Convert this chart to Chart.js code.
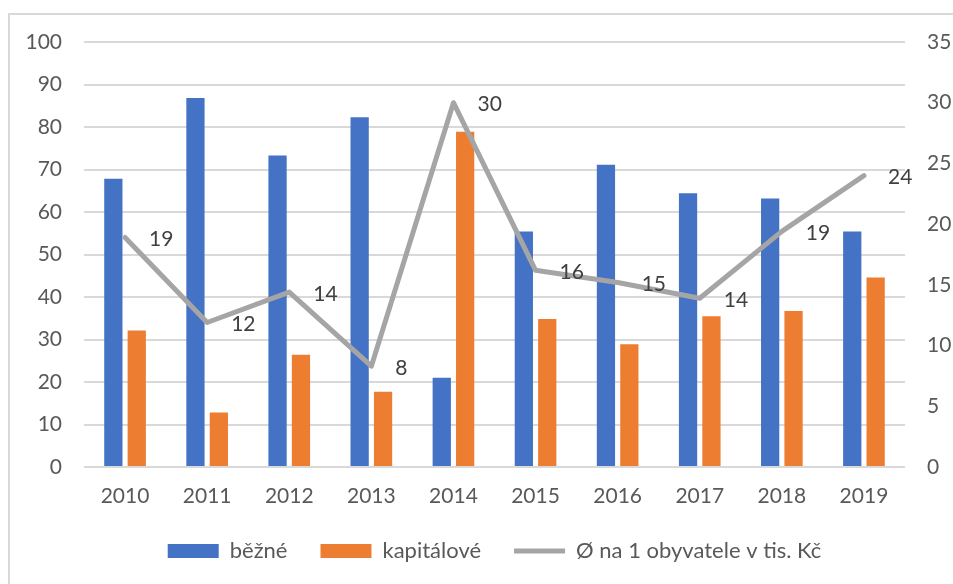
<!DOCTYPE html>
<html>
<head>
<meta charset="utf-8">
<script src="https://cdn.jsdelivr.net/npm/chart.js@4/dist/chart.umd.min.js"></script>
<style>
  html, body { margin: 0; padding: 0; background: #fff; }
  #wrap { position: relative; width: 953px; height: 584px; overflow: hidden; }
  #frame { position: absolute; left: 8px; top: 13px; width: 1000px; height: 700px; border: 2px solid #d9d9d9; box-sizing: border-box; }
  canvas { position: absolute; left: 0; top: 0; }
</style>
</head>
<body>
<div id="wrap">
  <div id="frame"></div>
  <canvas id="c" width="953" height="584"></canvas>
</div>
<script>
const categories = ['2010','2011','2012','2013','2014','2015','2016','2017','2018','2019'];
const bezne = [67.8, 86.8, 73.3, 82.3, 21.0, 55.4, 71.1, 64.4, 63.2, 55.4];
const kapitalove = [32.1, 12.8, 26.4, 17.7, 78.9, 34.8, 28.9, 35.5, 36.7, 44.6];
const naObyvatele = [18.9, 11.9, 14.4, 8.3, 30.0, 16.2, 15.2, 13.9, 19.4, 24.0];
const seriesNames = ['běžné', 'kapitálové', 'Ø na 1 obyvatele v tis. Kč'];

const FONT = 'Lato, "Open Sans", sans-serif';

const lineLabels = {
  id: 'lineLabels',
  afterDatasetsDraw(chart) {
    const ctx = chart.ctx;
    const meta = chart.getDatasetMeta(2);
    ctx.save();
    ctx.font = '21px ' + FONT;
    ctx.fillStyle = '#404040';
    ctx.textAlign = 'left';
    ctx.textBaseline = 'middle';
    meta.data.forEach((pt, i) => {
      ctx.fillText(String(Math.round(naObyvatele[i])), pt.x + 24, pt.y + 2);
    });
    ctx.restore();
  }
};

new Chart(document.getElementById('c'), {
  data: {
    labels: categories,
    datasets: [
      { type: 'bar', label: seriesNames[0], data: bezne, yAxisID: 'y',
        backgroundColor: '#4472c4', borderWidth: 0, order: 1,
        categoryPercentage: 0.57, barPercentage: 0.78, pointStyle: 'rect' },
      { type: 'bar', label: seriesNames[1], data: kapitalove, yAxisID: 'y',
        backgroundColor: '#ed7d31', borderWidth: 0, order: 1,
        categoryPercentage: 0.57, barPercentage: 0.78, pointStyle: 'rect' },
      { type: 'line', label: seriesNames[2], data: naObyvatele, yAxisID: 'y1',
        borderColor: '#a5a5a5', backgroundColor: '#a5a5a5', borderWidth: 5,
        pointRadius: 0, tension: 0, borderJoinStyle: 'round', borderCapStyle: 'round',
        order: 0, pointStyle: 'line' }
    ]
  },
  options: {
    responsive: false,
    animation: false,
    layout: { padding: { left: 0, right: 0, top: 42, bottom: 12 } },
    plugins: {
      legend: {
        position: 'bottom',
        fullSize: false,
        labels: {
          usePointStyle: true,
          pointStyleWidth: 51,
          boxHeight: 14,
          padding: 33,
          color: '#595959',
          font: { family: FONT, size: 22 },
          sort: (a, b) => a.datasetIndex - b.datasetIndex
        }
      },
      tooltip: { enabled: false }
    },
    scales: {
      x: {
        grid: { display: false, drawTicks: false },
        border: { display: false },
        ticks: { color: '#595959', font: { family: FONT, size: 21, lineHeight: 1 }, padding: 19 },
        afterFit(s) { s.height = 40; }
      },
      y: {
        position: 'left',
        min: 0, max: 100,
        ticks: { stepSize: 10, color: '#595959', font: { family: FONT, size: 21 }, padding: 22 },
        grid: { color: '#d9d9d9', lineWidth: 2, drawTicks: false },
        border: { display: false },
        afterFit(s) { s.width = 84; }
      },
      y1: {
        position: 'right',
        min: 0, max: 35,
        ticks: { stepSize: 5, color: '#595959', font: { family: FONT, size: 21 }, padding: 22 },
        grid: { display: false, drawTicks: false },
        border: { display: false },
        afterFit(s) { s.width = 48; }
      }
    }
  },
  plugins: [lineLabels]
});
</script>
</body>
</html>
